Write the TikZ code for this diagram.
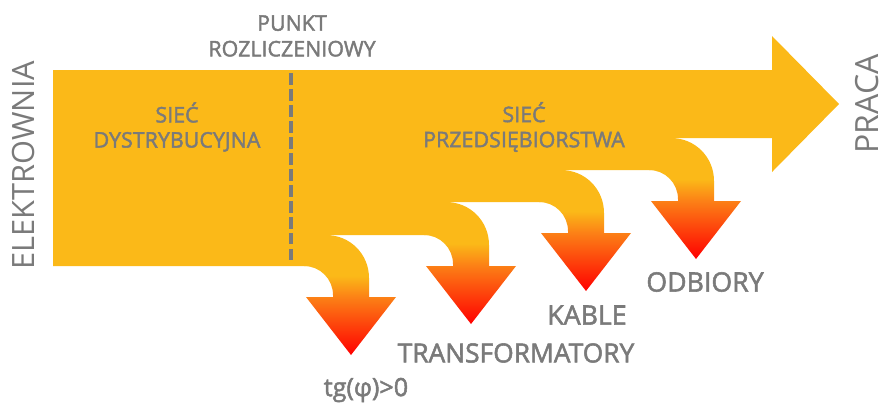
\documentclass[tikz,border=0pt]{standalone}
\usepackage{fontspec}
\setmainfont{Open Sans}
\newfontfamily\semifont[FakeBold=2]{Open Sans}
\usepackage{tikz}
\usetikzlibrary{calc}
\usepackage{xcolor}
\definecolor{flowYellow}{RGB}{251, 185, 24}
\definecolor{flowOrange}{RGB}{252, 128, 22}
\definecolor{flowRed}{RGB}{255, 0, 0}
\definecolor{labelGray}{RGB}{122, 122, 122}
\pgfdeclareverticalshading{lossshade}{100bp}{color(0bp)=(flowRed); color(25bp)=(flowRed); color(49bp)=(flowOrange); color(58bp)=(flowYellow); color(100bp)=(flowYellow)}

\begin{document}
\begin{tikzpicture}[x=0.02cm, y=-0.02cm]
  \useasboundingbox (0,0) rectangle (885,407);

  % Main flow from the power plant to useful work
  \fill[flowYellow] (53,70) -- (772,70) -- (772,36) -- (839,104) -- (772,172) -- (772,138)
    -- (671,138) -- (671,170) -- (561,170) -- (561,202) -- (446,202) -- (446,235)
    -- (326,235) -- (326,266) -- (53,266) -- cycle;

  % Losses bending down out of the flow
  \shade[shading=lossshade] (326,235) .. controls (350,235) and (369,254) .. (369,278)
    -- (369,297) -- (396,297) -- (351,355) -- (306,297) -- (333,297) -- (333,295)
    .. controls (333,279) and (320,266) .. (304,266) -- (304,235) -- cycle;
  \shade[shading=lossshade] (446,202) .. controls (470,202) and (489,221) .. (489,245)
    -- (489,266) -- (516,266) -- (471,324) -- (426,266) -- (453,266) -- (453,264)
    .. controls (453,248) and (440,235) .. (424,235) -- (424,202) -- cycle;
  \shade[shading=lossshade] (561,170) .. controls (585,170) and (604,189) .. (604,213)
    -- (604,233) -- (631,233) -- (586,291) -- (541,233) -- (568,233) -- (568,231)
    .. controls (568,215) and (555,202) .. (539,202) -- (539,170) -- cycle;
  \shade[shading=lossshade] (671,138) .. controls (695,138) and (714,157) .. (714,181)
    -- (714,201) -- (741,201) -- (696,259) -- (651,201) -- (678,201) -- (678,199)
    .. controls (678,183) and (665,170) .. (649,170) -- (649,138) -- cycle;

  % Metering point
  \draw[labelGray, line width=2.3pt, dash pattern=on 6.6pt off 2.5pt] (291,73) -- (291,264);
  \node[font=\semifont\fontsize{12.2}{14.6}\selectfont, labelGray, align=center] (punkt) at (292,36)
    {PUNKT\\ROZLICZENIOWY};

  % Network labels
  \node[font=\semifont\fontsize{12.2}{14.3}\selectfont, labelGray, align=center] (siecDys) at (177,127)
    {SIEĆ\\DYSTRYBUCYJNA};
  \node[font=\semifont\fontsize{12.2}{14.3}\selectfont, labelGray, align=center] (siecPrz) at (524,127)
    {SIEĆ\\PRZEDSIĘBIORSTWA};

  % Ends of the flow
  \node[font=\fontsize{17.5}{20}\selectfont, labelGray, rotate=90, inner sep=0pt] (elektrownia) at (24,165) {ELEKTROWNIA};
  \node[font=\fontsize{18.2}{21}\selectfont, labelGray, rotate=90, inner sep=0pt] (praca) at (867,104) {PRACA};

  % Loss labels
  \node[font=\semifont\fontsize{15.2}{18}\selectfont, labelGray] (odbiory) at (705,282) {ODBIORY};
  \node[font=\semifont\fontsize{15.2}{18}\selectfont, labelGray] (kable) at (587,315) {KABLE};
  \node[font=\semifont\fontsize{15}{18}\selectfont, labelGray] (trafo) at (516,353) {TRANSFORMATORY};
  \node[font=\semifont\fontsize{14.3}{16}\selectfont, labelGray] (tg) at (366,390) {tg(φ)>0};
\end{tikzpicture}
\end{document}
